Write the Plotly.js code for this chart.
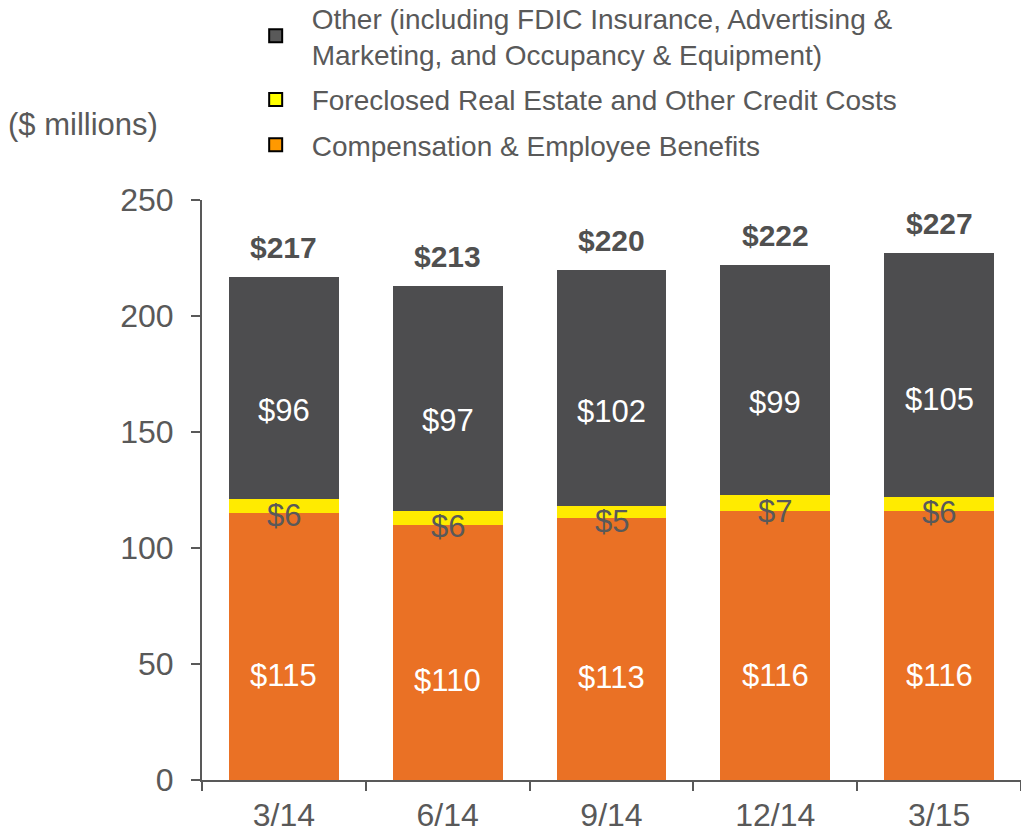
<!DOCTYPE html>
<html>
<head>
<meta charset="utf-8">
<script src="https://cdn.plot.ly/plotly-3.0.1.min.js"></script>
<style>
  html, body { margin: 0; padding: 0; background: #fff; }
  #chart { width: 1021px; height: 832px; }
</style>
</head>
<body>
<div id="chart"></div>
<script>
let quarters = ['3/14', '6/14', '9/14', '12/14', '3/15'];
let compensation = [115, 110, 113, 116, 116];
let creditCosts = [6, 6, 5, 7, 6];
let otherCosts = [96, 97, 102, 99, 105];
let totals = [217, 213, 220, 222, 227];

let names = [
    'Other (including FDIC Insurance, Advertising &<br>Marketing, and Occupancy & Equipment)',
    'Foreclosed Real Estate and Other Credit Costs',
    'Compensation & Employee Benefits'
];

let font = 'Liberation Sans, Arial, sans-serif';
let textGray = '#595959';

function barTrace(values, color) {
    return {
        type: 'bar',
        x: quarters,
        y: values,
        marker: { color: color },
        width: 0.67,
        showlegend: false,
        hoverinfo: 'skip'
    };
}

// legend-only entries (the legend boxes use other colours than the bars)
function legendTrace(name, color, group) {
    return {
        type: 'scatter',
        mode: 'markers',
        x: [null],
        y: [null],
        name: name,
        legendgroup: group,
        marker: { symbol: 'square', size: 13, color: color, line: { color: '#000', width: 2 } }
    };
}

let data = [
    barTrace(compensation, '#EA7125'),
    barTrace(creditCosts, '#FFEB00'),
    barTrace(otherCosts, '#4D4D4F'),
    legendTrace(names[0], '#595959', 'a'),
    legendTrace(names[1], '#FFFF00', 'b'),
    legendTrace(names[2], '#FF9900', 'c')
];

let annotations = [];
for (let i in quarters) {
    let base = compensation[i] + creditCosts[i];
    annotations.push({
        x: quarters[i], y: compensation[i] * 0.39, text: '$' + compensation[i],
        showarrow: false, font: { family: font, size: 31, color: '#fff' }
    });
    annotations.push({
        x: quarters[i], y: compensation[i] + creditCosts[i] / 2, yshift: -9, text: '$' + creditCosts[i],
        showarrow: false, font: { family: font, size: 31, color: textGray }
    });
    annotations.push({
        x: quarters[i], y: base + otherCosts[i] * 0.4, text: '$' + otherCosts[i],
        showarrow: false, font: { family: font, size: 31, color: '#fff' }
    });
    annotations.push({
        x: quarters[i], y: totals[i], yanchor: 'bottom', yshift: 11, text: '<b>$' + totals[i] + '</b>',
        showarrow: false, font: { family: font, size: 30, color: '#505050' }
    });
}
annotations.push({
    xref: 'paper', yref: 'paper', x: -0.239, y: 1.13, xanchor: 'left', yanchor: 'middle',
    text: '($ millions)', showarrow: false, font: { family: font, size: 31, color: textGray }
});

let layout = {
    width: 1021,
    height: 832,
    margin: { l: 202, r: 0, t: 200, b: 52, autoexpand: false },
    paper_bgcolor: '#fff',
    plot_bgcolor: '#fff',
    barmode: 'stack',
    font: { family: font, color: textGray },
    showlegend: true,
    legend: {
        x: 0.046, y: 1.357, xanchor: 'left', yanchor: 'top',
        font: { family: font, size: 28, color: textGray },
        tracegroupgap: 6,
        itemwidth: 62,
        bgcolor: 'rgba(0,0,0,0)'
    },
    xaxis: {
        type: 'category',
        range: [-0.5, 4.5],
        showline: true, linecolor: textGray, linewidth: 2,
        ticks: 'outside', tickson: 'boundaries', ticklen: 9, tickwidth: 2, tickcolor: textGray,
        tickfont: { family: font, size: 32, color: textGray },
        ticklabelstandoff: 6,
        showgrid: false, zeroline: false, fixedrange: true
    },
    yaxis: {
        range: [0, 250],
        tickvals: [0, 50, 100, 150, 200, 250],
        showline: true, linecolor: textGray, linewidth: 2,
        ticks: 'outside', ticklen: 9, tickwidth: 2, tickcolor: textGray,
        tickfont: { family: font, size: 32, color: textGray },
        ticklabelstandoff: 11,
        showgrid: false, zeroline: false, fixedrange: true
    },
    annotations: annotations
};

Plotly.newPlot('chart', data, layout, { displayModeBar: false, staticPlot: true });
</script>
</body>
</html>
